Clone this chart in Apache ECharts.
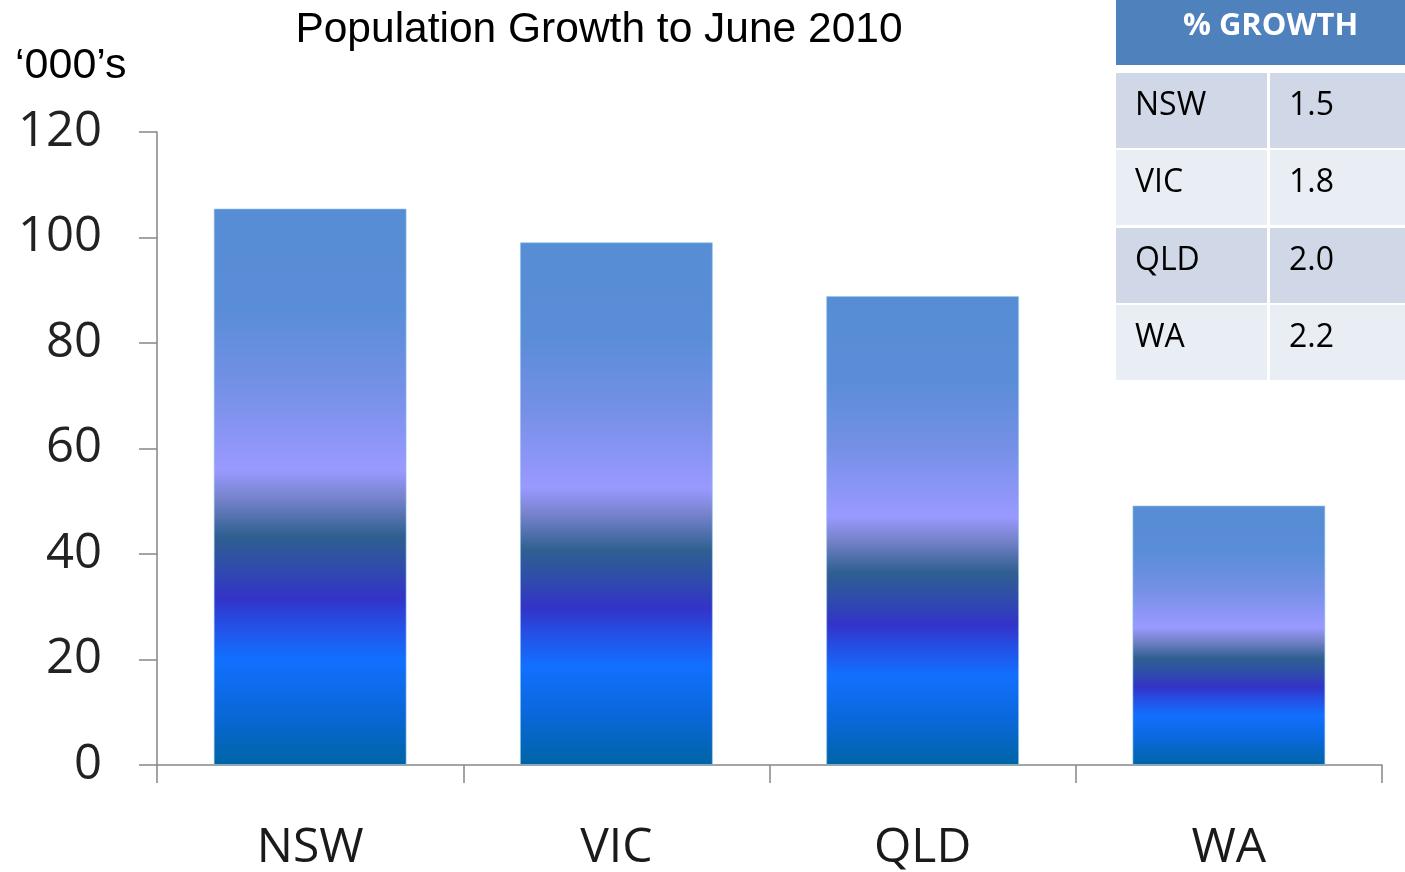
<!DOCTYPE html>
<html>
<head>
<meta charset="utf-8">
<script src="https://cdn.jsdelivr.net/npm/echarts@6/dist/echarts.min.js"></script>
<style>
  html, body { margin: 0; padding: 0; background: #ffffff; }
  #chart { width: 1405px; height: 872px; }
</style>
</head>
<body>
<div id="chart"></div>
<script>
// Population growth in the year to June 2010, thousands of people
const states = ['NSW', 'VIC', 'QLD', 'WA'];
const growthThousands = [105.5, 99.1, 88.9, 49.2];
const yTicks = [0, 20, 40, 60, 80, 100, 120];

// Side table: percentage growth per state
const tableHeader = '% GROWTH';
const tableStates = ['NSW', 'VIC', 'QLD', 'WA'];
const tablePct = ['1.5', '1.8', '2.0', '2.2'];

// Banded vertical fill used on every bar (relative to the bar's own height)
const barFill = {
  type: 'linear', x: 0, y: 0, x2: 0, y2: 1,
  colorStops: [
    { offset: 0.00, color: '#568dd4' },
    { offset: 0.18, color: '#5a8dd8' },
    { offset: 0.32, color: '#7490e6' },
    { offset: 0.47, color: '#9a99ff' },
    { offset: 0.52, color: '#7683cc' },
    { offset: 0.59, color: '#2f5f90' },
    { offset: 0.64, color: '#2f4ea8' },
    { offset: 0.70, color: '#3333c8' },
    { offset: 0.75, color: '#2450e6' },
    { offset: 0.81, color: '#1170ff' },
    { offset: 0.90, color: '#0a68dc' },
    { offset: 1.00, color: '#0064a6' }
  ]
};

const chart = echarts.init(document.getElementById('chart'), null, { renderer: 'canvas' });

// Table geometry
const tx = 1116, tw = 289, colSplit = 1268;
const headerH = 65;
const rowTops = [73, 150, 228, 305];
const rowH = 75;
const rowColors = ['#d0d8e8', '#e9edf4'];

const graphics = [
  { type: 'rect', left: tx, top: 0, shape: { width: tw, height: headerH }, style: { fill: '#4f81bd' }, silent: true },
  { type: 'text', x: tx + tw / 2 + 10, y: 26, style: {
      text: tableHeader, fill: '#ffffff', font: 'bold 31px "Open Sans", sans-serif',
      textAlign: 'center', textVerticalAlign: 'middle' }, silent: true }
];
tableStates.forEach((s, i) => {
  const y = rowTops[i];
  const fill = rowColors[i % 2];
  graphics.push({ type: 'rect', shape: { x: tx, y: y, width: colSplit - tx - 1, height: rowH }, style: { fill: fill }, silent: true });
  graphics.push({ type: 'rect', shape: { x: colSplit + 2, y: y, width: tx + tw - colSplit - 2, height: rowH }, style: { fill: fill }, silent: true });
  graphics.push({ type: 'text', x: 1135, y: y + rowH / 2 - 5, style: {
    text: s, fill: '#000000', font: '32px "Open Sans", sans-serif', textVerticalAlign: 'middle' }, silent: true });
  graphics.push({ type: 'text', x: 1289, y: y + rowH / 2 - 5, style: {
    text: tablePct[i], fill: '#000000', font: '32px "Open Sans", sans-serif', textVerticalAlign: 'middle' }, silent: true });
});
// Unit label above the value axis
graphics.push({ type: 'text', x: 15, y: 66, style: {
  text: '\u2018000\u2019s', fill: '#000000', font: '43px "Liberation Sans", Arial, sans-serif', textVerticalAlign: 'middle' }, silent: true });

chart.setOption({
  animation: false,
  backgroundColor: '#ffffff',
  title: {
    text: 'Population Growth to June 2010',
    left: 594, top: 4, textAlign: 'center',
    textStyle: { fontFamily: '"Liberation Sans", Arial, sans-serif', fontSize: 42.5, fontWeight: 'normal', color: '#000000' }
  },
  grid: { left: 157, right: 23, top: 132, bottom: 104, containLabel: false },
  xAxis: {
    type: 'category',
    data: states,
    axisLine: { lineStyle: { color: '#868686', width: 1.5 } },
    axisTick: { show: true, length: 18, inside: false, alignWithLabel: false, lineStyle: { color: '#868686', width: 1.5 } },
    axisLabel: { margin: 59, color: '#1a1a1a', fontSize: 48, fontFamily: '"Open Sans", sans-serif' },
    splitLine: { show: false }
  },
  yAxis: {
    type: 'value',
    min: yTicks[0], max: yTicks[yTicks.length - 1], interval: yTicks[1] - yTicks[0],
    axisLine: { show: true, lineStyle: { color: '#868686', width: 1.5 } },
    axisTick: { show: true, length: 18, lineStyle: { color: '#868686', width: 1.5 } },
    axisLabel: { margin: 55, color: '#222222', fontSize: 49, fontFamily: '"Open Sans", sans-serif' },
    splitLine: { show: false }
  },
  series: [{
    type: 'bar',
    data: growthThousands,
    barWidth: '63%',
    itemStyle: { color: barFill, borderColor: 'rgba(150,200,230,0.6)', borderWidth: 1 },
    silent: true
  }],
  graphic: graphics
});
</script>
</body>
</html>
